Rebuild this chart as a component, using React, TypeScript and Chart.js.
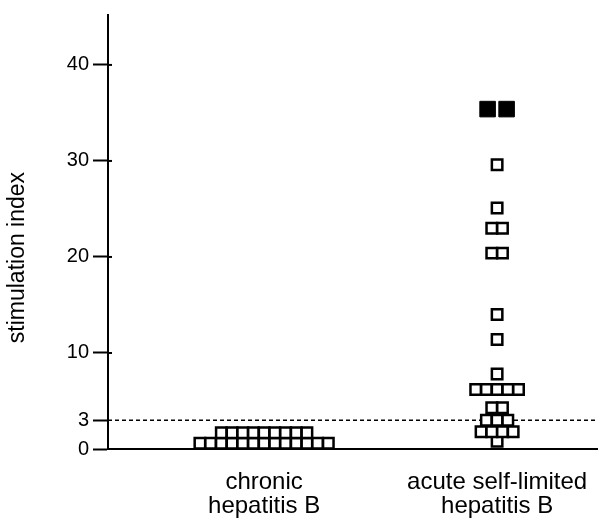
import React, { useEffect, useRef } from 'react';
import { Chart, registerables } from 'chart.js';

Chart.register(...registerables);

const categories: string[][] = [
  ['chronic', 'hepatitis B'],
  ['acute self-limited', 'hepatitis B'],
];
const chronicValues = [
  0.6, 0.6, 0.6, 0.6, 0.6, 0.6, 0.6, 0.6, 0.6, 0.6, 0.6, 0.6, 0.6,
  1.7, 1.7, 1.7, 1.7, 1.7, 1.7, 1.7, 1.7, 1.7,
];
const acuteOpenValues = [
  0.8,
  1.8, 1.8, 1.8, 1.8,
  3.0, 3.0, 3.0,
  4.3, 4.3,
  6.2, 6.2, 6.2, 6.2, 6.2,
  7.8, 11.4, 14.0,
  20.4, 20.4,
  23.0, 23.0,
  25.1, 29.6,
];
const acuteFilledValues = [35.4, 35.4];
const yTickValues = [0, 3, 10, 20, 30, 40];
const thresholdValue = 3;
const yTitle = 'stimulation index';

const X_MIN = 0.33;
const X_MAX = 2.433;
const PX_PER_UNIT = 490 / (X_MAX - X_MIN);

function swarm(values: number[], center: number, stepPx: number) {
  const step = stepPx / PX_PER_UNIT;
  const groups: Record<string, number[]> = {};
  values.forEach((v, i) => {
    (groups[String(v)] ||= []).push(i);
  });
  const out: { x: number; y: number }[] = [];
  Object.values(groups).forEach((idx) => {
    const n = idx.length;
    idx.forEach((i, k) => {
      out[i] = { x: center + (k - (n - 1) / 2) * step, y: values[i] };
    });
  });
  return out;
}

const refPlugin = {
  id: 'refLines',
  beforeDatasetsDraw(chart: any) {
    const { ctx, chartArea, scales } = chart;
    const y = scales.y.getPixelForValue(thresholdValue);
    ctx.save();
    ctx.strokeStyle = '#000';
    ctx.lineWidth = 1.6;
    ctx.setLineDash([4, 3]);
    ctx.beginPath();
    ctx.moveTo(chartArea.left, y);
    ctx.lineTo(chartArea.right, y);
    ctx.stroke();
    ctx.setLineDash([]);
    ctx.lineWidth = 2;
    yTickValues.forEach((v) => {
      if (v === 0 || v === thresholdValue) return;
      const ty = scales.y.getPixelForValue(v);
      ctx.beginPath();
      ctx.moveTo(chartArea.left, ty);
      ctx.lineTo(chartArea.left + 4, ty);
      ctx.stroke();
    });
    ctx.restore();
  },
};

export default function App() {
  const ref = useRef<HTMLCanvasElement>(null);
  useEffect(() => {
    document.body.style.margin = '0';
    Chart.defaults.font.family = '"Liberation Sans", Arial, sans-serif';
    Chart.defaults.color = '#000';
    const openStyle = {
      pointStyle: 'rect' as const,
      pointRadius: 7.4,
      pointBorderWidth: 2.5,
      pointBackgroundColor: '#fff',
      pointBorderColor: '#000',
    };
    const chart = new Chart(ref.current!, {
      type: 'scatter',
      data: {
        datasets: [
          { data: swarm(chronicValues, 1, 10.7), ...openStyle },
          { data: swarm(acuteOpenValues, 2, 10.7), ...openStyle },
          {
            data: swarm(acuteFilledValues, 2, 19),
            pointStyle: 'rect',
            pointRadius: 11,
            pointBorderWidth: 1,
            pointBackgroundColor: '#000',
            pointBorderColor: '#000',
          },
        ],
      },
      options: {
        animation: false,
        responsive: false,
        clip: false as any,
        layout: { autoPadding: false, padding: { top: 15, left: 0, right: 0, bottom: 0 } },
        plugins: { legend: { display: false }, tooltip: { enabled: false } },
        scales: {
          x: {
            type: 'linear',
            min: X_MIN,
            max: X_MAX,
            grid: { display: false },
            border: { display: true, color: '#000', width: 2 },
            afterBuildTicks: (s: any) => {
              s.ticks = categories.map((_, i) => ({ value: i + 1 }));
            },
            afterFit: (s: any) => {
              s.height = 80;
              s.paddingLeft = 0;
              s.paddingRight = 0;
            },
            ticks: {
              autoSkip: false,
              maxRotation: 0,
              padding: 13,
              color: '#000',
              font: { size: 24, lineHeight: 1.0 },
              callback: (v: any) => categories[Math.round(Number(v)) - 1] ?? '',
            },
          },
          y: {
            min: 0,
            max: 45.2,
            afterBuildTicks: (s: any) => {
              s.ticks = yTickValues.map((v) => ({ value: v }));
            },
            afterFit: (s: any) => {
              s.width = 108;
              s.paddingTop = 0;
              s.paddingBottom = 0;
            },
            grid: {
              drawOnChartArea: false,
              drawTicks: true,
              tickLength: 15,
              tickWidth: 2,
              color: '#000',
            },
            border: { display: true, color: '#000', width: 2 },
            ticks: {
              padding: 4,
              color: '#000',
              font: { size: 20 },
              autoSkip: false,
            },
            title: {
              display: true,
              text: yTitle + '\u00a0'.repeat(8),
              color: '#000',
              font: { size: 23 },
              padding: { top: 4, bottom: 0 },
            },
          },
        },
      },
      plugins: [refPlugin],
    });
    return () => chart.destroy();
  }, []);
  return <canvas ref={ref} width={598} height={529} style={{ display: 'block' }} />;
}
